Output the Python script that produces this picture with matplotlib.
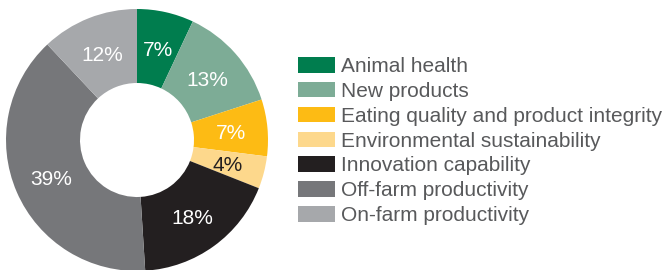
import matplotlib
matplotlib.use("Agg")
import matplotlib.pyplot as plt
from matplotlib.patches import Patch
import numpy as np

categories = ["Animal health", "New products", "Eating quality and product integrity",
              "Environmental sustainability", "Innovation capability",
              "Off-farm productivity", "On-farm productivity"]
values = [7, 13, 7, 4, 18, 39, 12]
labels = ["7%", "13%", "7%", "4%", "18%", "39%", "12%"]
colors = ["#007D4E", "#7DAC96", "#FDBB14", "#FDD88C", "#231F20", "#76777A", "#A6A8AB"]
label_colors = ["white", "white", "white", "#231F20", "white", "white", "white"]

plt.rcParams['font.family'] = ['Liberation Sans', 'DejaVu Sans']

W, H = 667, 270
fig = plt.figure(figsize=(W / 100, H / 100), dpi=100)
cx, cy, R = 137, 140, 131
ax = fig.add_axes([(cx - R) / W, (H - cy - R) / H, 2 * R / W, 2 * R / H])
inner = 57 / R
wedges, _ = ax.pie(values, colors=colors, startangle=90, counterclock=False,
                   radius=1, wedgeprops=dict(width=1 - inner, linewidth=0))
for w, lab, lc in zip(wedges, labels, label_colors):
    ang = np.deg2rad((w.theta1 + w.theta2) / 2)
    r = (1 + inner) / 2
    ax.text(r * np.cos(ang), r * np.sin(ang) - 0.02, lab, ha="center", va="center",
            color=lc, fontsize=15)
ax.set_xlim(-1, 1)
ax.set_ylim(-1, 1)
ax.set_aspect("equal")
ax.axis("off")

fs = 15.0
handles = [Patch(facecolor=c, edgecolor="none") for c in colors]
leg = fig.legend(handles, categories, loc="upper left",
                 bbox_to_anchor=(298 / W, 1 - 57 / H), frameon=False,
                 fontsize=fs, handlelength=1.78, handleheight=0.77,
                 handletextpad=0.28, labelspacing=0.28, borderpad=0, borderaxespad=0)
for t in leg.get_texts():
    t.set_color("#58595B")

fig.savefig("out.png", dpi=100)
